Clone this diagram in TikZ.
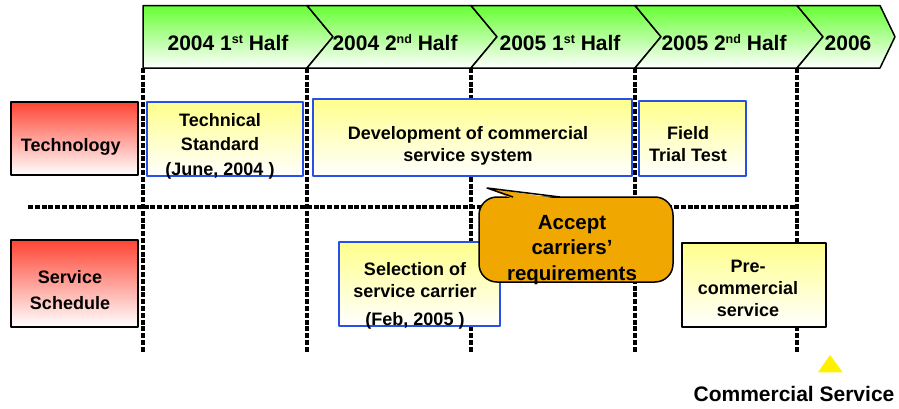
\documentclass[tikz,border=0pt]{standalone}
\usepackage{fontspec}
\setmainfont{Liberation Sans}
\definecolor{hdgreen}{RGB}{102,255,51}
\definecolor{lblred}{RGB}{255,68,51}
\definecolor{boxyellow}{RGB}{255,255,140}
\definecolor{boxblue}{RGB}{40,80,230}
\definecolor{calloutorange}{RGB}{240,168,0}
\definecolor{markyellow}{RGB}{255,240,0}
\newcommand{\ordsup}[1]{\raisebox{6.5pt}{\fontsize{12.5}{12.5}\selectfont #1}}
\begin{document}
\begin{tikzpicture}[x=1pt, y=-1pt, line join=round,
  halfyear/.style={draw=black, line width=1.5pt, top color=hdgreen, bottom color=white},
  gridline/.style={line width=3.8pt, dash pattern=on 5pt off 1.8pt},
  lbl box/.style={rectangle, draw=black, line width=2pt, top color=lblred, bottom color=white, inner sep=0pt},
  task box/.style={rectangle, draw=boxblue, line width=2pt, top color=boxyellow, bottom color=white, inner sep=0pt},
  txt/.style={anchor=base, align=center, inner sep=0pt, font=\bfseries\fontsize{18}{22}\selectfont},
  head/.style={font=\bfseries\fontsize{21}{25}\selectfont}]
\useasboundingbox (0,0) rectangle (899,408);
% time line
\shade[halfyear] (143,5.5) -- (307,5.5) -- (333,36.75) -- (307,68) -- (143,68) -- cycle;
\shade[halfyear] (307,5.5) -- (471,5.5) -- (497,36.75) -- (471,68) -- (307,68) -- (333,36.75) -- cycle;
\shade[halfyear] (471,5.5) -- (635,5.5) -- (661,36.75) -- (635,68) -- (471,68) -- (497,36.75) -- cycle;
\shade[halfyear] (635,5.5) -- (797,5.5) -- (823,36.75) -- (797,68) -- (635,68) -- (661,36.75) -- cycle;
\shade[halfyear] (797,5.5) -- (880,5.5) -- (895,36.75) -- (880,68) -- (797,68) -- (823,36.75) -- cycle;
\foreach \gx in {143,307,471,635,797}
  \draw[gridline] (\gx,68) -- (\gx,352);
\draw[gridline] (28,207) -- (797,207);
% boxes
\node[lbl box, minimum width=126.7, minimum height=73.3] (tech) at (74.3,138.3) {};
\node[lbl box, minimum width=127, minimum height=86.7] (sched) at (74.5,283.3) {};
\node[task box, minimum width=156.3, minimum height=73.7] (std) at (224.9,139.2) {};
\node[task box, minimum width=319.3, minimum height=77] (dev) at (472.4,137.5) {};
\node[task box, minimum width=106.7, minimum height=75.3] (field) at (692.4,138.4) {};
\node[task box, minimum width=161, minimum height=83.7] (sel) at (419.5,284.2) {};
\node[task box, draw=black, minimum width=144, minimum height=84] (pre) at (754,285) {};
% callout
\filldraw[fill=calloutorange, draw=black, line width=1.5pt, rounded corners=18] (479,197) rectangle (673,282);
\fill[calloutorange] (513,199) -- (487,188) -- (560,199) -- cycle;
\draw[line width=1.5pt] (513,197) -- (487,188) -- (560,197);
\fill[markyellow] (818,372.3) -- (830,355) -- (842.7,372.3) -- cycle;
% texts (base = last line)
\begin{scope}[every node/.style={txt}]
\node[head] (h1) at (228,50) {2004 1\ordsup{st} Half};
\node[head] (h2) at (395,50) {2004 2\ordsup{nd} Half};
\node[head] (h3) at (560,50) {2005 1\ordsup{st} Half};
\node[head] (h4) at (724,50) {2005 2\ordsup{nd} Half};
\node[head] (h5) at (848,50) {2006};
\node (techt) at (70.8,151) {Technology};
\node[font=\bfseries\fontsize{18}{26}\selectfont] (schedt) at (70,309) {Service\\Schedule};
\node[font=\bfseries\fontsize{18}{24.5}\selectfont] (stdt) at (220,175) {Technical\\Standard\\(June, 2004 )};
\node (devt) at (468,161) {Development of commercial\\service system};
\node (fieldt) at (688,161) {Field\\Trial Test};
\node (selt) at (415,325.7) {Selection of\\service carrier\\[6.4pt](Feb, 2005 )};
\node (pret) at (748,316.7) {Pre-\\commercial\\service};
\node[font=\bfseries\fontsize{20.5}{25.5}\selectfont] (acc) at (572,280) {Accept\\carriers’\\requirements};
\node[head] (comm) at (794,401.7) {Commercial Service};
\end{scope}
\end{tikzpicture}
\end{document}
